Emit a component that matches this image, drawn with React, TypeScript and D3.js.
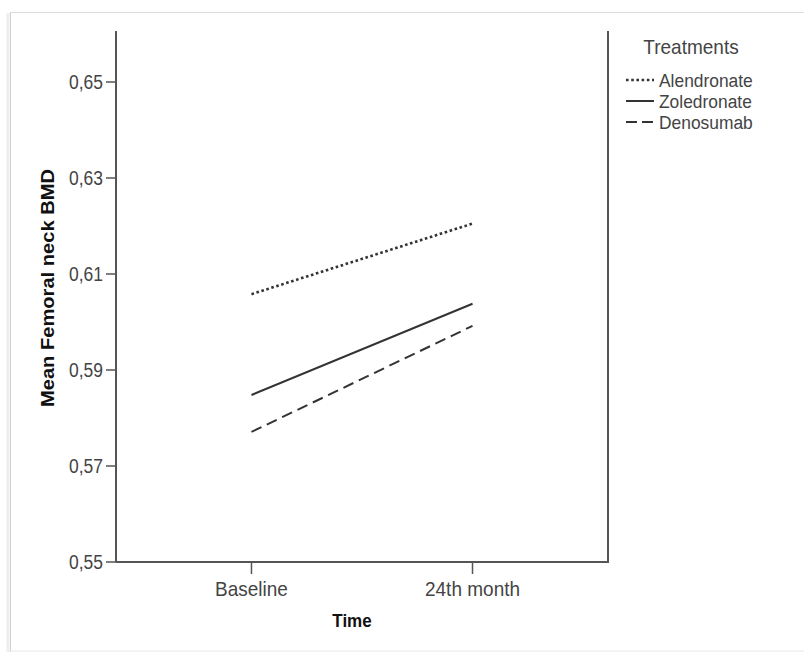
import React from "react";
import * as d3 from "d3";

const categories = ["Baseline", "24th month"];
const seriesNames = ["Alendronate", "Zoledronate", "Denosumab"];
const alendronate = [0.6058, 0.6205];
const zoledronate = [0.5848, 0.6038];
const denosumab = [0.5771, 0.5992];
const yTicks = [0.55, 0.57, 0.59, 0.61, 0.63, 0.65];

const W = 804;
const H = 652;
const left = 116;
const right = 608;
const bottom = 562;
const top = 34;

type TProps = {
  x: number;
  y: number;
  sy?: number;
  children: React.ReactNode;
  [k: string]: any;
};

function T({ x, y, sy = 1.12, children, ...rest }: TProps) {
  return (
    <text transform={`translate(${x},${y}) scale(1,${sy})`} {...rest}>
      {children}
    </text>
  );
}

export default function App() {
  const x = d3.scalePoint<string>().domain(categories).range([left, right]).padding(0.613);
  const y = d3.scaleLinear().domain([0.55, 0.66]).range([bottom, top]);
  const line = d3
    .line<number>()
    .x((_, i) => x(categories[i]) as number)
    .y((d) => y(d));
  const series = [
    { name: seriesNames[0], values: alendronate, dash: "2.6,2.6", w: 2.6 },
    { name: seriesNames[1], values: zoledronate, dash: "none", w: 2 },
    { name: seriesNames[2], values: denosumab, dash: "11,6", w: 2 },
  ];
  const fmt = (v: number) => d3.format(".2f")(v).replace(".", ",");
  const font = "'Liberation Sans', Arial, sans-serif";
  const textCol = "#444";
  const axisCol = "#555";
  const lineCol = "#333";
  const legendY = [80, 101, 122];
  return (
    <svg
      width={W}
      height={H}
      style={{ position: "absolute", left: 0, top: 0, background: "#fff" }}
      fontFamily={font}
    >
      {/* frame */}
      <line x1={8} x2={8} y1={13} y2={652} stroke="#eeeeee" strokeWidth={3} />
      <line x1={10.5} x2={10.5} y1={12} y2={652} stroke="#cfcfcf" strokeWidth={1} />
      <line x1={10} x2={804} y1={12.5} y2={12.5} stroke="#dcdcdc" strokeWidth={1} />
      <line x1={10} x2={804} y1={651} y2={651} stroke="#e8e8e8" strokeWidth={1} />
      {/* axes */}
      <line x1={left} x2={left} y1={31} y2={bottom} stroke={axisCol} strokeWidth={2} />
      <line x1={right} x2={right} y1={31} y2={bottom} stroke={axisCol} strokeWidth={2} />
      <line x1={left} x2={right + 1} y1={bottom} y2={bottom} stroke={axisCol} strokeWidth={2} />
      {yTicks.map((t) => (
        <g key={t}>
          <line x1={left - 10} x2={left} y1={y(t)} y2={y(t)} stroke={axisCol} strokeWidth={1.5} />
          <T x={left - 13} y={y(t) + 7} textAnchor="end" fontSize={17.5} fill={textCol}>
            {fmt(t)}
          </T>
        </g>
      ))}
      {categories.map((c) => (
        <g key={c}>
          <line x1={x(c)} x2={x(c)} y1={bottom} y2={bottom + 12} stroke={axisCol} strokeWidth={1.5} />
          <T x={x(c) as number} y={596} sy={1.1} textAnchor="middle" fontSize={19} fill={textCol}>
            {c}
          </T>
        </g>
      ))}
      <T x={352} y={627} sy={1.05} textAnchor="middle" fontSize={17} fontWeight="bold" fill="#111">
        Time
      </T>
      <text
        transform={`translate(54,288) rotate(-90)`}
        textAnchor="middle"
        fontSize={17.5}
        fontWeight="bold"
        fill="#111"
        textLength={238}
        lengthAdjust="spacingAndGlyphs"
      >
        Mean Femoral neck BMD
      </text>
      {/* series */}
      {series.map((s) => (
        <path
          key={s.name}
          d={line(s.values) || ""}
          fill="none"
          stroke={lineCol}
          strokeWidth={s.w}
          strokeDasharray={s.dash}
        />
      ))}
      {/* legend */}
      <T x={691} y={54} sy={1.05} textAnchor="middle" fontSize={19} fill={textCol}>
        Treatments
      </T>
      {series.map((s, i) => (
        <g key={s.name}>
          <line
            x1={626}
            x2={654}
            y1={legendY[i]}
            y2={legendY[i]}
            stroke={lineCol}
            strokeWidth={s.w}
            strokeDasharray={s.dash === "11,6" ? "11,5" : s.dash}
          />
          <T x={659} y={legendY[i] + 6.5} sy={1.05} fontSize={17.4} fill={textCol}>
            {s.name}
          </T>
        </g>
      ))}
    </svg>
  );
}
